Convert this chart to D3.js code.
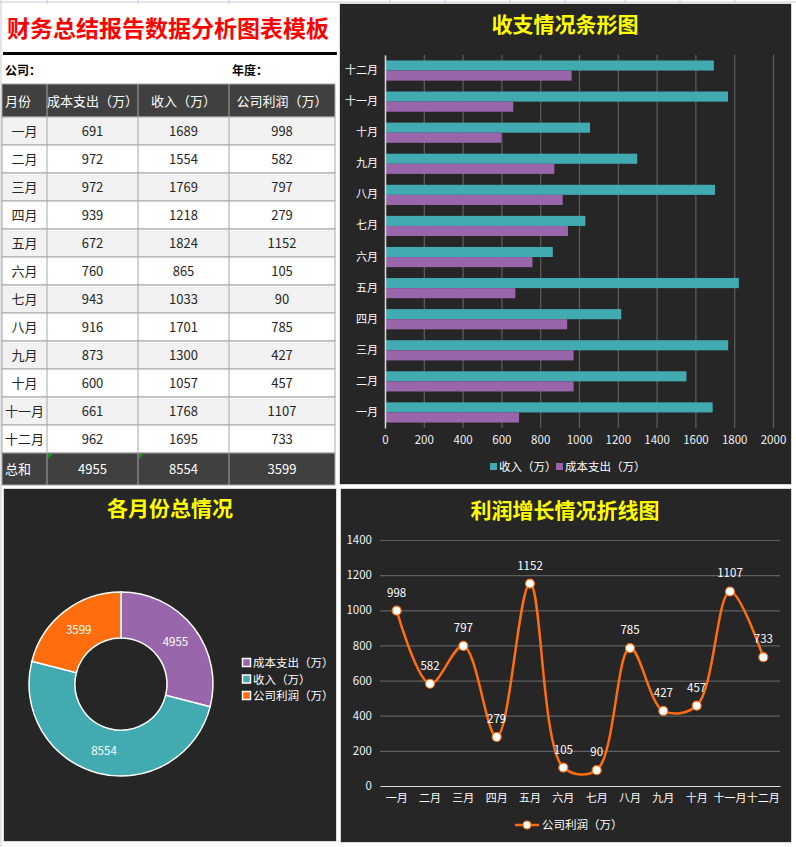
<!DOCTYPE html>
<html>
<head>
<meta charset="utf-8">
<title>财务总结报告数据分析图表模板</title>
<script src="https://d3js.org/d3.v7.min.js"></script>
<style>
  html, body { margin: 0; padding: 0; background: #fff; }
  svg { display: block; }
  text { font-family: "Noto Sans CJK SC", "Microsoft YaHei", sans-serif; }
</style>
</head>
<body>
<svg id="chart" width="796" height="847"></svg>
<script>
// data read from the sheet
const months = ["一月", "二月", "三月", "四月", "五月", "六月", "七月", "八月", "九月", "十月", "十一月", "十二月"];
const cost = [691, 972, 972, 939, 672, 760, 943, 916, 873, 600, 661, 962];
const income = [1689, 1554, 1769, 1218, 1824, 865, 1033, 1701, 1300, 1057, 1768, 1695];
const profit = [998, 582, 797, 279, 1152, 105, 90, 785, 427, 457, 1107, 733];
const totalNames = ["成本支出（万）", "收入（万）", "公司利润（万）"];
const totals = [4955, 8554, 3599];
const headers = ["月份", "成本支出（万）", "收入（万）", "公司利润（万）"];
const barTicks = [0, 200, 400, 600, 800, 1000, 1200, 1400, 1600, 1800, 2000];
const lineTicks = [0, 200, 400, 600, 800, 1000, 1200, 1400];

const TEAL = "#42aab1", PURPLE = "#9a66ab", ORANGE = "#ff6d0f", PANEL = "#262626", YELLOW = "#ffff00";
const FONT = "'Noto Sans CJK SC', sans-serif";

const svg = d3.select("#chart");

// spreadsheet grid peeking out at the top
svg.append("line").attr("x1", 0).attr("x2", 796).attr("y1", 2).attr("y2", 2).attr("stroke", "#c6cbd6");
[47, 138, 229, 390, 445, 510, 565, 625, 680, 735].forEach(x => {
  svg.append("line").attr("x1", x).attr("x2", x).attr("y1", 0).attr("y2", 4).attr("stroke", "#c6cbd6");
});
svg.append("line").attr("x1", 1).attr("x2", 1).attr("y1", 0).attr("y2", 847).attr("stroke", "#c6cbd6");

// ---------- table ----------
svg.append("text").attr("x", 168).attr("y", 37).attr("text-anchor", "middle")
  .attr("font-size", 23).attr("font-weight", "bold").attr("fill", "#ff0000")
  .text("财务总结报告数据分析图表模板");
svg.append("rect").attr("x", 3).attr("y", 52).attr("width", 334).attr("height", 3).attr("fill", "#000");
svg.append("text").attr("x", 5).attr("y", 75).attr("font-size", 12).attr("font-weight", "bold").text("公司：");
svg.append("text").attr("x", 232).attr("y", 75).attr("font-size", 12).attr("font-weight", "bold").text("年度：");

const colX = [2, 47, 138, 229, 335];
const rowH = 28, headTop = 84, headH = 33, bodyTop = 117;
const tbl = svg.append("g");

function cellRow(y, h, fill, vals, color, leftFirst) {
  tbl.append("rect").attr("x", colX[0]).attr("y", y).attr("width", colX[4] - colX[0]).attr("height", h)
    .attr("fill", fill).attr("stroke", "#a6a6a6");
  vals.forEach((v, i) => {
    if (i > 0) tbl.append("line").attr("x1", colX[i]).attr("x2", colX[i]).attr("y1", y).attr("y2", y + h).attr("stroke", "#a6a6a6");
    const left = leftFirst && i === 0;
    tbl.append("text")
      .attr("x", left ? colX[0] + 3 : (colX[i] + colX[i + 1]) / 2)
      .attr("y", y + h / 2 + 5)
      .attr("text-anchor", left ? "start" : "middle")
      .attr("font-size", 13).attr("fill", color).text(v);
  });
}

cellRow(headTop, headH, "#404040", headers, "#fff", true);
months.forEach((m, i) => {
  cellRow(bodyTop + i * rowH, rowH, i % 2 === 0 ? "#f2f2f2" : "#fff", [m, cost[i], income[i], profit[i]], "#262626", false);
});
cellRow(bodyTop + 12 * rowH, 32, "#404040", ["总和", ...totals], "#fff", true);
[colX[1], colX[2]].forEach(x => {
  tbl.append("path").attr("d", `M${x + 1},${bodyTop + 12 * rowH + 1}h5l-5,5z`).attr("fill", "#1e8c1e");
});

// ---------- bar chart ----------
const bar = svg.append("g");
bar.append("rect").attr("x", 339.5).attr("y", 3.5).attr("width", 452).attr("height", 481)
  .attr("fill", PANEL).attr("stroke", "#d9d9d9");
bar.append("text").attr("x", 565).attr("y", 32).attr("text-anchor", "middle")
  .attr("font-size", 21).attr("font-weight", "bold").attr("fill", YELLOW).text("收支情况条形图");

const bx = d3.scaleLinear().domain([0, 2000]).range([385, 773]);
const by = d3.scaleBand().domain(months.slice().reverse()).range([55, 428]).paddingInner(0.35).paddingOuter(0.175);
const sub = d3.scaleBand().domain(["income", "cost"]).range([0, by.bandwidth()]);

bar.append("g").attr("transform", "translate(0,428)")
  .call(d3.axisBottom(bx).tickValues(barTicks).tickFormat(d3.format("d")).tickSize(-373).tickPadding(8))
  .call(g => g.select(".domain").remove())
  .call(g => g.selectAll(".tick line").attr("stroke", "#5f5f5f").attr("stroke-width", 1.2))
  .call(g => g.selectAll(".tick text").attr("fill", "#eef2f7").attr("font-size", 11.5).attr("font-family", FONT));

const rows = months.map((m, i) => ({ m, income: income[i], cost: cost[i] }));
["income", "cost"].forEach(k => {
  bar.append("g").selectAll("rect").data(rows).join("rect")
    .attr("x", bx(0)).attr("y", d => by(d.m) + sub(k))
    .attr("width", d => bx(d[k]) - bx(0)).attr("height", sub.bandwidth())
    .attr("fill", k === "income" ? TEAL : PURPLE);
});

bar.append("g").attr("transform", "translate(385,0)")
  .call(d3.axisLeft(by).tickSize(0).tickPadding(7))
  .call(g => g.select(".domain").attr("stroke", "#d9d9d9").attr("stroke-width", 1.5))
  .call(g => g.selectAll(".tick text").attr("fill", "#fff").attr("font-size", 11).attr("font-family", FONT));

const barLegend = [{ name: "收入（万）", c: TEAL, x: 490 }, { name: "成本支出（万）", c: PURPLE, x: 556 }];
barLegend.forEach(d => {
  bar.append("rect").attr("x", d.x).attr("y", 463).attr("width", 7).attr("height", 7).attr("fill", d.c);
  bar.append("text").attr("x", d.x + 9).attr("y", 471).attr("font-size", 11.5).attr("fill", "#fff").text(d.name);
});

// ---------- donut ----------
const dn = svg.append("g");
dn.append("rect").attr("x", 3.5).attr("y", 488.5).attr("width", 333).attr("height", 353)
  .attr("fill", PANEL).attr("stroke", "#d9d9d9");
dn.append("text").attr("x", 170).attr("y", 516).attr("text-anchor", "middle")
  .attr("font-size", 21).attr("font-weight", "bold").attr("fill", YELLOW).text("各月份总情况");

const pieColors = [PURPLE, TEAL, ORANGE];
const pie = d3.pie().sort(null).value(d => d.v);
const arcs = pie(totals.map((v, i) => ({ v, name: totalNames[i], c: pieColors[i] })));
const arc = d3.arc().innerRadius(46).outerRadius(92);
const labelArc = d3.arc().innerRadius(69).outerRadius(69);
const donutG = dn.append("g").attr("transform", "translate(121,684)");
donutG.selectAll("path").data(arcs).join("path")
  .attr("d", arc).attr("fill", d => d.data.c).attr("stroke", "#fff").attr("stroke-width", 1.5);
donutG.selectAll("text").data(arcs).join("text")
  .attr("transform", d => `translate(${labelArc.centroid(d)})`)
  .attr("text-anchor", "middle").attr("dy", "0.35em")
  .attr("font-size", 11.5).attr("fill", "#fff").text(d => d.data.v);

arcs.forEach((d, i) => {
  const y = 663 + i * 16.5;
  dn.append("rect").attr("x", 242.5).attr("y", y - 4.5).attr("width", 8).attr("height", 8)
    .attr("fill", d.data.c).attr("stroke", "#fff").attr("stroke-width", 1.5);
  dn.append("text").attr("x", 253).attr("y", y + 4).attr("font-size", 11.5).attr("fill", "#fff").text(d.data.name);
});

// ---------- line chart ----------
const ln = svg.append("g");
ln.append("rect").attr("x", 340.5).attr("y", 488.5).attr("width", 451).attr("height", 354)
  .attr("fill", PANEL).attr("stroke", "#d9d9d9");
ln.append("text").attr("x", 565).attr("y", 518).attr("text-anchor", "middle")
  .attr("font-size", 21).attr("font-weight", "bold").attr("fill", YELLOW).text("利润增长情况折线图");

const lx = d3.scaleBand().domain(months).range([380, 780]);
const ly = d3.scaleLinear().domain([0, 1400]).range([786, 540]);
const cx = m => lx(m) + lx.bandwidth() / 2;

ln.append("g").attr("transform", "translate(380,0)")
  .call(d3.axisLeft(ly).tickValues(lineTicks).tickFormat(d3.format("d")).tickSize(-400).tickPadding(8))
  .call(g => g.select(".domain").remove())
  .call(g => g.selectAll(".tick line").attr("stroke", "#5f5f5f").attr("stroke-width", 1.2))
  .call(g => g.selectAll(".tick text").attr("fill", "#eef2f7").attr("font-size", 11.5).attr("font-family", FONT));
ln.append("g").attr("transform", "translate(0,786)")
  .call(d3.axisBottom(lx).tickSize(0).tickPadding(8))
  .call(g => g.select(".domain").attr("stroke", "#d9d9d9").attr("stroke-width", 1.2))
  .call(g => g.selectAll(".tick text").attr("fill", "#fff").attr("font-size", 11).attr("font-family", FONT));

const pts = months.map((m, i) => ({ m, v: profit[i] }));
ln.append("path").datum(pts)
  .attr("d", d3.line().x(d => cx(d.m)).y(d => ly(d.v)).curve(d3.curveCatmullRom.alpha(0.5)))
  .attr("fill", "none").attr("stroke", ORANGE).attr("stroke-width", 2.5);
ln.append("g").selectAll("circle").data(pts).join("circle")
  .attr("cx", d => cx(d.m)).attr("cy", d => ly(d.v)).attr("r", 4.5)
  .attr("fill", "#fff").attr("stroke", ORANGE).attr("stroke-width", 1.2);
ln.append("g").selectAll("text").data(pts).join("text")
  .attr("x", d => cx(d.m)).attr("y", d => ly(d.v) - 14)
  .attr("text-anchor", "middle").attr("font-size", 11.5).attr("fill", "#fff").text(d => d.v);

ln.append("line").attr("x1", 515).attr("x2", 539).attr("y1", 825).attr("y2", 825)
  .attr("stroke", ORANGE).attr("stroke-width", 2.5);
ln.append("circle").attr("cx", 527).attr("cy", 825).attr("r", 4)
  .attr("fill", "#fff").attr("stroke", ORANGE).attr("stroke-width", 1.2);
ln.append("text").attr("x", 542).attr("y", 829).attr("font-size", 11.5).attr("fill", "#fff").text("公司利润（万）");
</script>
</body>
</html>
